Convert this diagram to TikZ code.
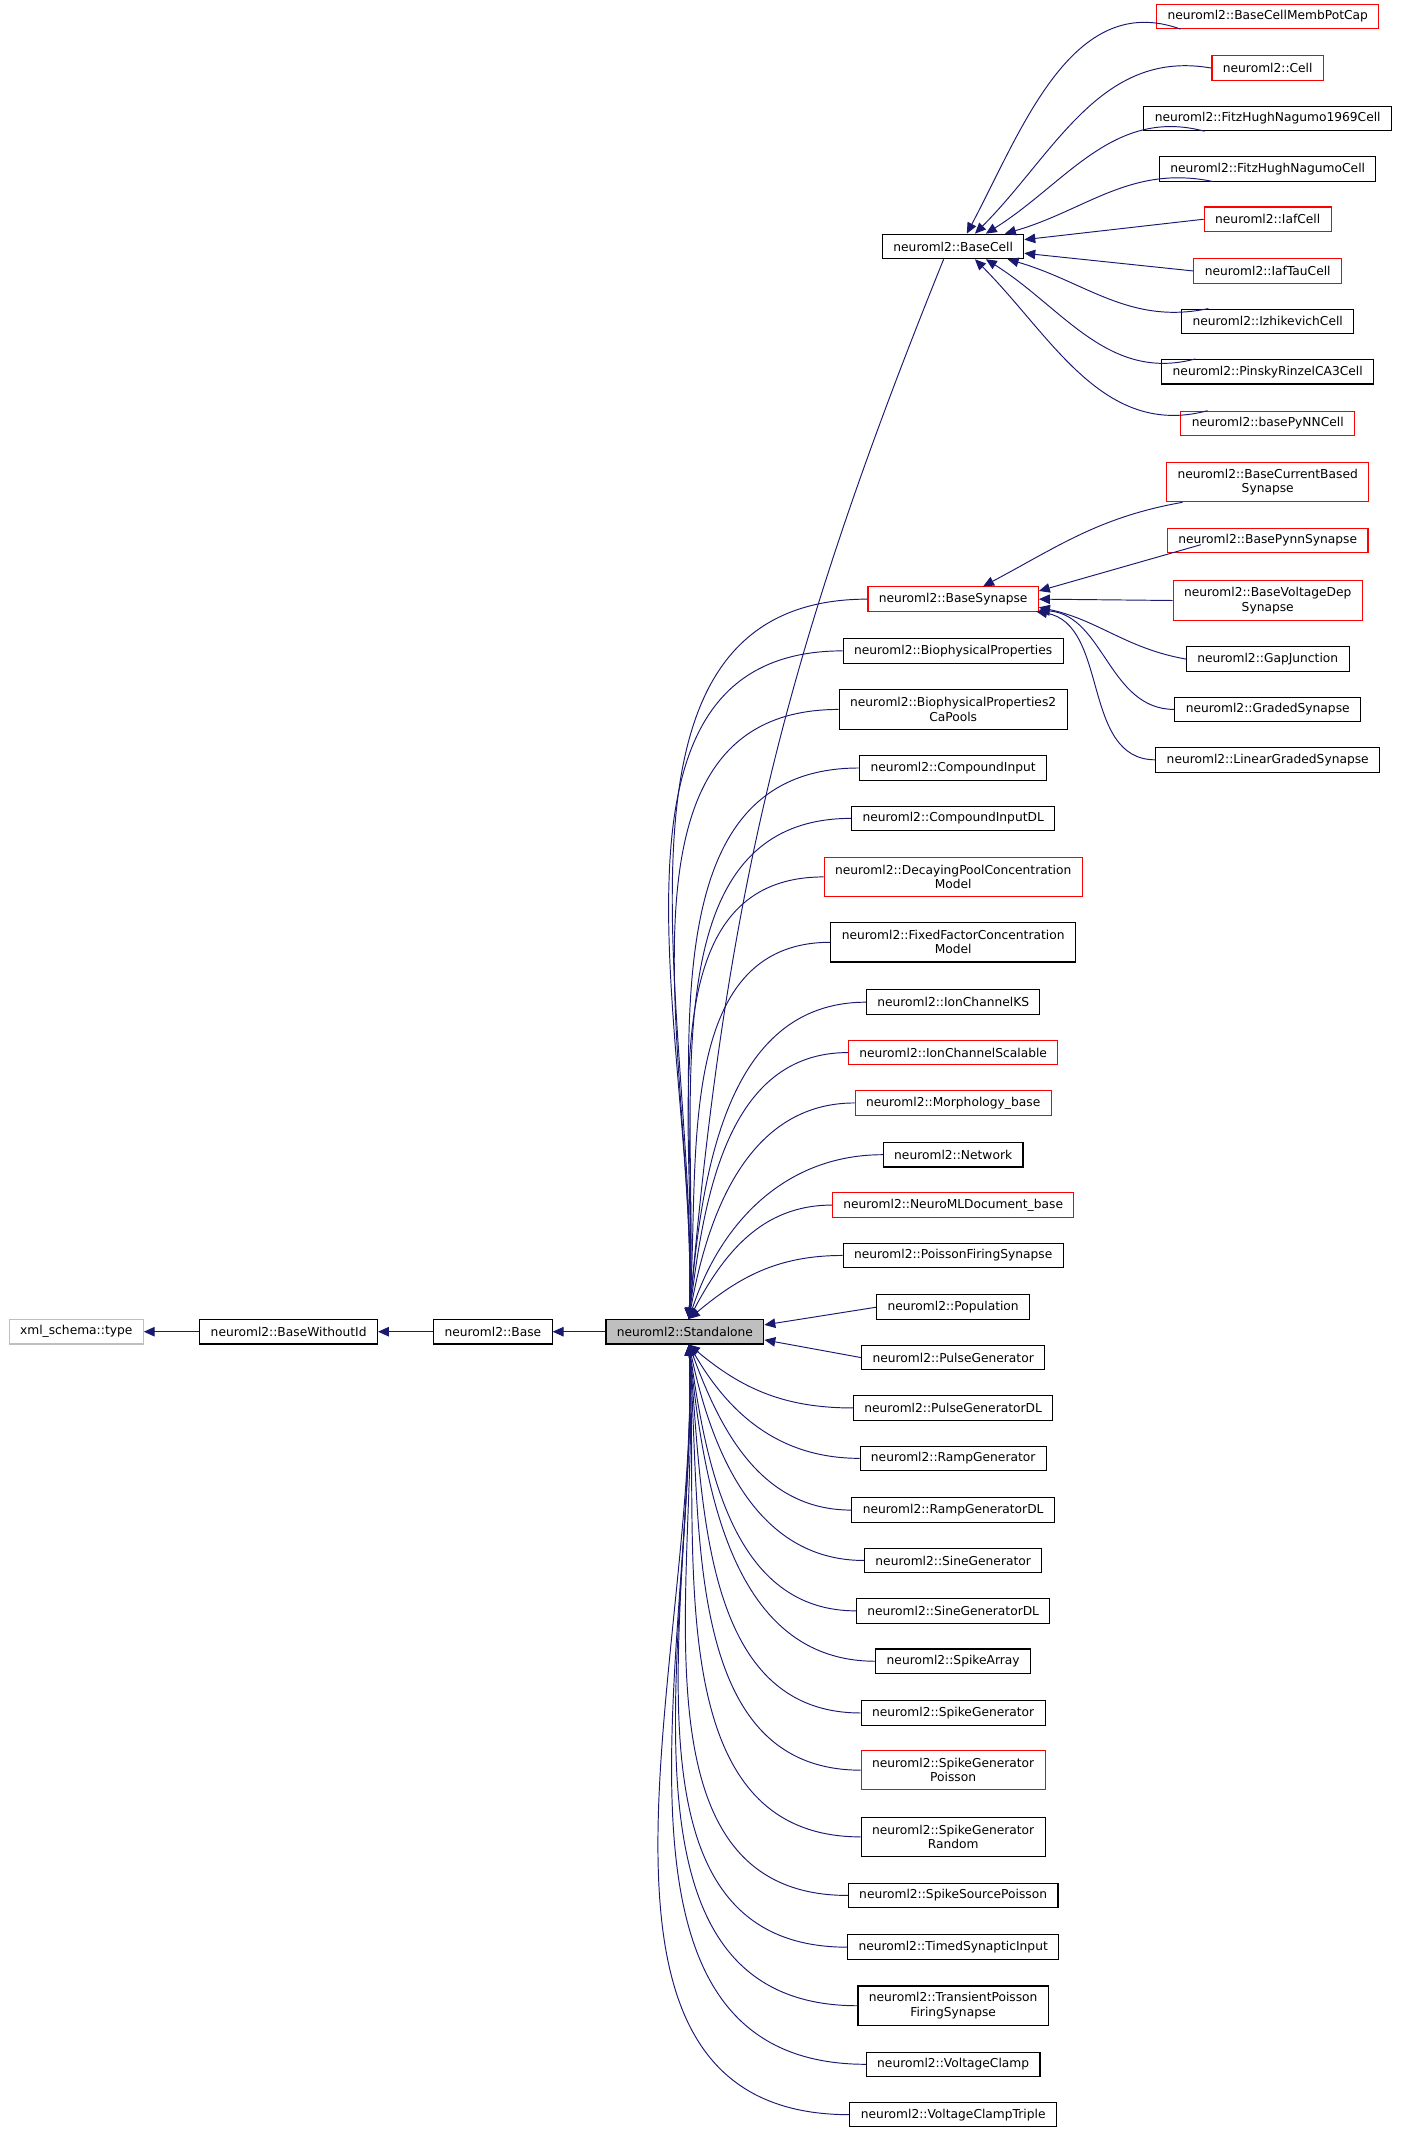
\documentclass[tikz,border=0pt]{standalone}
\usepackage{fontspec}
\setmainfont{DejaVu Sans}
\usetikzlibrary{arrows.meta,calc}
\definecolor{nv}{HTML}{191970}
\definecolor{gb}{HTML}{BFBFBF}
\begin{document}
\begin{tikzpicture}[x=1pt,y=-1pt,
  bx/.style={draw=black,line width=0.8pt,minimum height=18,inner xsep=8,inner ysep=0pt,font=\fontsize{9}{10.5}\selectfont,align=center},
  rb/.style={bx,draw=red},
  btb/.style={bx,minimum height=29},
  rtb/.style={rb,minimum height=29},
  e/.style={draw=nv,line width=0.7pt,{Triangle[length=8,width=7]}-}]
\useasboundingbox (0,0) rectangle (1030,1565);
% chain
\node[bx,draw=gb] (xs) at (56,978) {xml\_schema::type};
\node[bx] (bwi) at (212,978) {neuroml2::BaseWithoutId};
\node[bx] (ba) at (362,978) {neuroml2::Base};
\node[bx,fill=gb] (st) at (503,978) {neuroml2::Standalone};
\draw[e] (xs) -- (bwi);
\draw[e] (bwi) -- (ba);
\draw[e] (ba) -- (st);
\coordinate (stT) at ($(st.north)+(3,0)$);
\coordinate (stB) at ($(st.south)+(3,0)$);
% BaseCell
\node[bx] (bc) at (700,181) {neuroml2::BaseCell};
\node[rb] (c1) at (931,12) {neuroml2::BaseCellMembPotCap};
\node[rb] (c2) at (931,50) {neuroml2::Cell};
\node[bx] (c3) at (931,87) {neuroml2::FitzHughNagumo1969Cell};
\node[bx] (c4) at (931,124) {neuroml2::FitzHughNagumoCell};
\node[rb] (c5) at (931,161) {neuroml2::IafCell};
\node[rb] (c6) at (931,199) {neuroml2::IafTauCell};
\node[bx] (c7) at (931,236) {neuroml2::IzhikevichCell};
\node[bx] (c8) at (931,273) {neuroml2::PinskyRinzelCA3Cell};
\node[rb] (c9) at (931,311) {neuroml2::basePyNNCell};
\draw[e] ($(bc.north)+(10,0)$) to[out=62,in=160] ($(c1.south west)+(18,0)$);
\draw[e] ($(bc.north)+(16,0)$) to[out=45,in=170] (c2.west);
\draw[e] ($(bc.north)+(24,0)$) to[out=32,in=165] ($(c3.south west)+(45,0)$);
\draw[e] ($(bc.north)+(38,0)$) to[out=16,in=168] ($(c4.south west)+(40,0)$);
\draw[e] ($(bc.east)+(0,-5)$) -- (c5.west);
\draw[e] ($(bc.east)+(0,5)$) -- (c6.west);
\draw[e] ($(bc.south)+(40,0)$) to[out=-16,in=192] ($(c7.north west)+(20,0)$);
\draw[e] ($(bc.south)+(24,0)$) to[out=-32,in=195] ($(c8.north west)+(25,0)$);
\draw[e] ($(bc.south)+(16,0)$) to[out=-45,in=195] ($(c9.north west)+(20,0)$);
% BaseSynapse
\node[rb] (bs) at (700,440) {neuroml2::BaseSynapse};
\node[rtb] (s1) at (931,354) {neuroml2::BaseCurrentBased\\Synapse};
\node[rb] (s2) at (931,397) {neuroml2::BasePynnSynapse};
\node[rtb] (s3) at (931,441) {neuroml2::BaseVoltageDep\\Synapse};
\node[bx] (s4) at (931,484) {neuroml2::GapJunction};
\node[bx] (s5) at (931,521) {neuroml2::GradedSynapse};
\node[bx] (s6) at (931,558) {neuroml2::LinearGradedSynapse};
\draw[e] ($(bs.north)+(22,0)$) to[out=28,in=190] ($(s1.south west)+(12,0)$);
\draw[e] ($(bs.east)+(0,-6)$) -- ($(s2.west)+(25,3)$);
\draw[e] (bs.east) -- (s3.west);
\draw[e] ($(bs.east)+(0,6)$) to[out=-12,in=170] (s4.west);
\draw[e] ($(bs.east)+(0,8)$) to[out=-5,in=180] (s5.west);
\draw[e] ($(bs.east)+(-2,9)$) to[out=-10,in=180] (s6.west);
% Standalone to BaseCell / BaseSynapse
\draw[e] (stT) to[out=85,in=-112] ($(bc.south)+(-7,0)$);
\draw[e] (stT) to[out=88,in=180] (bs.west);
% Standalone children
\foreach \n/\y/\t/\s/\o in {
 a1/478/{neuroml2::BiophysicalProperties}/bx/88,
 a2/521/{neuroml2::BiophysicalProperties2\\CaPools}/btb/88,
 a3/564/{neuroml2::CompoundInput}/bx/87,
 a4/601/{neuroml2::CompoundInputDL}/bx/87,
 a5/644/{neuroml2::DecayingPoolConcentration\\Model}/rtb/87,
 a6/692/{neuroml2::FixedFactorConcentration\\Model}/btb/86,
 a7/736/{neuroml2::IonChannelKS}/bx/85,
 a8/773/{neuroml2::IonChannelScalable}/rb/83,
 a9/810/{neuroml2::Morphology\_base}/rb/80,
 a10/848/{neuroml2::Network}/bx/72,
 a11/885/{neuroml2::NeuroMLDocument\_base}/rb/62,
 a12/922/{neuroml2::PoissonFiringSynapse}/bx/40}
{
 \node[\s] (\n) at (700,\y) {\t};
 \draw[e] (stT) to[out=\o,in=180] (\n.west);
}
\node[bx] (p1) at (700,960) {neuroml2::Population};
\node[bx] (p2) at (700,997) {neuroml2::PulseGenerator};
\draw[e] ($(st.east)+(0,-5)$) -- (p1.west);
\draw[e] ($(st.east)+(0,6)$) -- (p2.west);
\foreach \n/\y/\t/\s/\o in {
 b1/1034/{neuroml2::PulseGeneratorDL}/bx/-40,
 b2/1071/{neuroml2::RampGenerator}/bx/-60,
 b3/1109/{neuroml2::RampGeneratorDL}/bx/-70,
 b4/1146/{neuroml2::SineGenerator}/bx/-78,
 b5/1183/{neuroml2::SineGeneratorDL}/bx/-82,
 b6/1220/{neuroml2::SpikeArray}/bx/-84,
 b7/1258/{neuroml2::SpikeGenerator}/bx/-85,
 b8/1300/{neuroml2::SpikeGenerator\\Poisson}/rtb/-86,
 b9/1349/{neuroml2::SpikeGenerator\\Random}/btb/-87,
 b10/1392/{neuroml2::SpikeSourcePoisson}/bx/-87,
 b11/1430/{neuroml2::TimedSynapticInput}/bx/-88,
 b12/1473/{neuroml2::TransientPoisson\\FiringSynapse}/btb/-88,
 b13/1516/{neuroml2::VoltageClamp}/bx/-88,
 b14/1553/{neuroml2::VoltageClampTriple}/bx/-88}
{
 \node[\s] (\n) at (700,\y) {\t};
 \draw[e] (stB) to[out=\o,in=180] (\n.west);
}
\end{tikzpicture}
\end{document}
